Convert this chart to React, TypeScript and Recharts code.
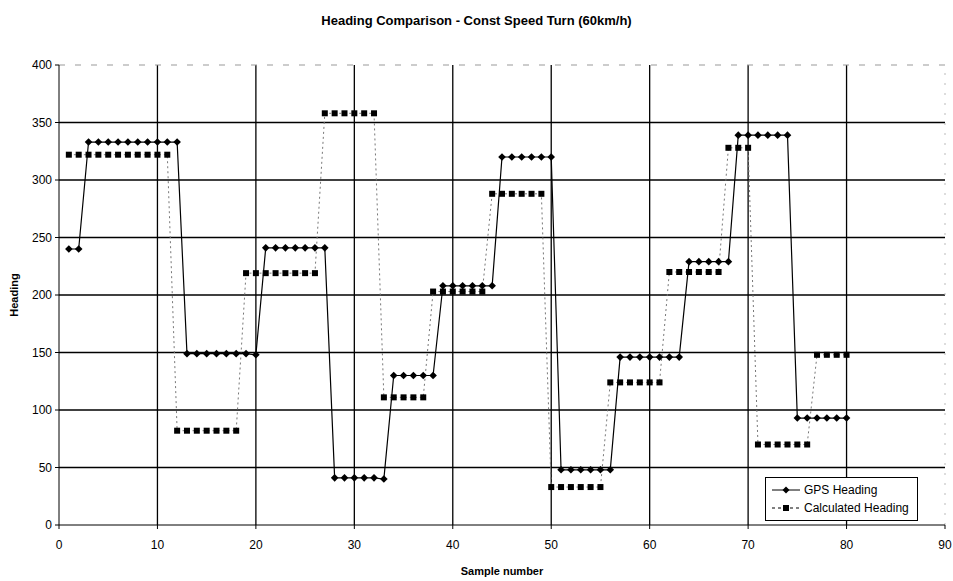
import {
  LineChart,
  Line,
  XAxis,
  YAxis,
  CartesianGrid,
  ReferenceLine,
  Legend,
} from "recharts";

const samples = [
  1, 2, 3, 4, 5, 6, 7, 8, 9, 10, 11, 12, 13, 14, 15, 16, 17, 18, 19, 20,
  21, 22, 23, 24, 25, 26, 27, 28, 29, 30, 31, 32, 33, 34, 35, 36, 37, 38, 39, 40,
  41, 42, 43, 44, 45, 46, 47, 48, 49, 50, 51, 52, 53, 54, 55, 56, 57, 58, 59, 60,
  61, 62, 63, 64, 65, 66, 67, 68, 69, 70, 71, 72, 73, 74, 75, 76, 77, 78, 79, 80,
];

const gpsHeading = [
  240, 240, 333, 333, 333, 333, 333, 333, 333, 333, 333, 333, 149, 149, 149, 149, 149, 149, 149, 148,
  241, 241, 241, 241, 241, 241, 241, 41, 41, 41, 41, 41, 40, 130, 130, 130, 130, 130, 208, 208,
  208, 208, 208, 208, 320, 320, 320, 320, 320, 320, 48, 48, 48, 48, 48, 48, 146, 146, 146, 146,
  146, 146, 146, 229, 229, 229, 229, 229, 339, 339, 339, 339, 339, 339, 93, 93, 93, 93, 93, 93,
];

const calcHeading = [
  322, 322, 322, 322, 322, 322, 322, 322, 322, 322, 322, 82, 82, 82, 82, 82, 82, 82, 219, 219,
  219, 219, 219, 219, 219, 219, 358, 358, 358, 358, 358, 358, 111, 111, 111, 111, 111, 203, 203, 203,
  203, 203, 203, 288, 288, 288, 288, 288, 288, 33, 33, 33, 33, 33, 33, 124, 124, 124, 124, 124,
  124, 220, 220, 220, 220, 220, 220, 328, 328, 328, 70, 70, 70, 70, 70, 70, 148, 148, 148, 148,
];

const xTicks = [0, 10, 20, 30, 40, 50, 60, 70, 80, 90];
const yTicks = [0, 50, 100, 150, 200, 250, 300, 350, 400];
const xGrid = [10, 20, 30, 40, 50, 60, 70, 80];
const yGrid = [50, 100, 150, 200, 250, 300, 350];

const rows = samples.map((s, i) => ({
  sample: s,
  gps: gpsHeading[i],
  calc: calcHeading[i],
}));

const FONT = '"Liberation Sans", Arial, sans-serif';

function Diamond(props: any) {
  const { cx, cy } = props;
  if (cx == null || cy == null) return <g />;
  const r = 3.8;
  return (
    <polygon
      points={`${cx},${cy - r} ${cx + r},${cy} ${cx},${cy + r} ${cx - r},${cy}`}
      fill="#000"
    />
  );
}

function Square(props: any) {
  const { cx, cy } = props;
  if (cx == null || cy == null) return <g />;
  return <rect x={cx - 3} y={cy - 3} width={6} height={6} fill="#000" />;
}

function LegendBox() {
  return (
    <div
      style={{
        border: "1px solid #000",
        background: "#fff",
        padding: "3px 8px 3px 6px",
        fontFamily: FONT,
        fontSize: 12,
        color: "#000",
        lineHeight: "18px",
      }}
    >
      <div style={{ display: "flex", alignItems: "center" }}>
        <svg width={28} height={10} style={{ marginRight: 4 }}>
          <line x1={0} y1={5} x2={28} y2={5} stroke="#000" />
          <polygon points="14,1.5 17.5,5 14,8.5 10.5,5" fill="#000" />
        </svg>
        GPS Heading
      </div>
      <div style={{ display: "flex", alignItems: "center" }}>
        <svg width={28} height={10} style={{ marginRight: 4 }}>
          <line x1={0} y1={5} x2={28} y2={5} stroke="#000" strokeDasharray="3 3" />
          <rect x={11} y={2} width={6} height={6} fill="#000" />
        </svg>
        Calculated Heading
      </div>
    </div>
  );
}

export default function App() {
  return (
    <div
      style={{
        position: "absolute",
        left: 0,
        top: 0,
        width: 953,
        height: 581,
        background: "#fff",
        fontFamily: FONT,
      }}
    >
      <div
        style={{
          position: "absolute",
          top: 13,
          left: 0,
          width: 953,
          textAlign: "center",
          fontWeight: "bold",
          fontSize: 13,
          color: "#000",
        }}
      >
        Heading Comparison - Const Speed Turn (60km/h)
      </div>
      <LineChart
        width={953}
        height={581}
        data={rows}
        margin={{ top: 65, right: 8, bottom: 0, left: 0 }}
      >
        <CartesianGrid
          stroke="#000"
          strokeWidth={1.3}
          horizontalValues={yGrid}
          verticalValues={xGrid}
        />
        <ReferenceLine y={400} stroke="#999" strokeDasharray="6 10" />
        <ReferenceLine x={90} stroke="#bbb" strokeDasharray="2 8" />
        <XAxis
          dataKey="sample"
          type="number"
          domain={[0, 90]}
          ticks={xTicks}
          height={56}
          stroke="#000"
          tickSize={4}
          tickMargin={11}
          tick={{ fill: "#000", fontSize: 12, fontFamily: FONT }}
          label={{
            value: "Sample number",
            position: "insideBottom",
            offset: 6,
            style: { fontWeight: "bold", fontSize: 11, fill: "#000", fontFamily: FONT },
          }}
        />
        <YAxis
          type="number"
          domain={[0, 400]}
          ticks={yTicks}
          width={59}
          stroke="#000"
          tickSize={4}
          tickMargin={3}
          tick={{ fill: "#000", fontSize: 12, fontFamily: FONT }}
          label={{
            value: "Heading",
            angle: -90,
            position: "insideLeft",
            offset: 14,
            style: { fontWeight: "bold", fontSize: 11, fill: "#000", fontFamily: FONT, textAnchor: "middle" },
          }}
        />
        <Line
          dataKey="calc"
          name="Calculated Heading"
          stroke="#777"
          strokeWidth={1}
          strokeDasharray="2 3"
          dot={Square}
          activeDot={false}
          isAnimationActive={false}
        />
        <Line
          dataKey="gps"
          name="GPS Heading"
          stroke="#000"
          strokeWidth={1.2}
          dot={Diamond}
          activeDot={false}
          isAnimationActive={false}
        />
        <Legend
          layout="vertical"
          align="center"
          verticalAlign="middle"
          content={<LegendBox />}
          wrapperStyle={{ position: "absolute", left: 765, top: 477, width: "auto" }}
        />
      </LineChart>
    </div>
  );
}
